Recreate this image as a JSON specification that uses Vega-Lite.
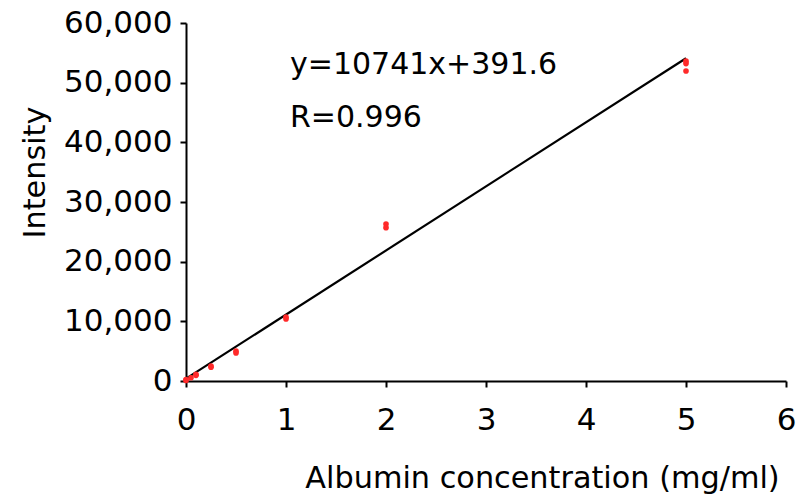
{
  "$schema": "https://vega.github.io/schema/vega-lite/v6.json",
  "width": 600,
  "height": 358,
  "autosize": {"type": "none"},
  "padding": {"left": 186, "top": 23, "right": 11, "bottom": 119},
  "background": "white",
  "config": {
    "view": {"stroke": null},
    "font": "DejaVu Sans",
    "axis": {
      "grid": false,
      "domainColor": "black",
      "domainWidth": 2,
      "tickColor": "black",
      "tickWidth": 2,
      "tickSize": 6,
      "labelFont": "DejaVu Sans",
      "labelFontSize": 31,
      "labelColor": "black",
      "titleFont": "DejaVu Sans",
      "titleFontSize": 30.3,
      "titleFontWeight": "normal",
      "titleColor": "black"
    }
  },
  "datasets": {
    "points": [
      {"conc": 0, "intensity": 100},
      {"conc": 0, "intensity": 250},
      {"conc": 0.05, "intensity": 550},
      {"conc": 0.1, "intensity": 950},
      {"conc": 0.1, "intensity": 1100},
      {"conc": 0.25, "intensity": 2500},
      {"conc": 0.25, "intensity": 2300},
      {"conc": 0.5, "intensity": 5000},
      {"conc": 0.5, "intensity": 4700},
      {"conc": 1, "intensity": 10700},
      {"conc": 1, "intensity": 10400},
      {"conc": 2, "intensity": 26300},
      {"conc": 2, "intensity": 25700},
      {"conc": 5, "intensity": 53600},
      {"conc": 5, "intensity": 53200},
      {"conc": 5, "intensity": 51950}
    ],
    "fit": [
      {"conc": 0, "intensity": 391.6},
      {"conc": 5, "intensity": 54096.6}
    ],
    "labels": [
      {"conc": 1.04, "intensity": 51450, "text": "y=10741x+391.6"},
      {"conc": 1.04, "intensity": 42570, "text": "R=0.996"}
    ]
  },
  "layer": [
    {
      "data": {"name": "fit"},
      "mark": {"type": "line", "color": "black", "strokeWidth": 2.2},
      "encoding": {
        "x": {
          "field": "conc", "type": "quantitative",
          "scale": {"domain": [0, 6], "nice": false},
          "axis": {
            "title": "Albumin concentration (mg/ml)",
            "values": [0, 1, 2, 3, 4, 5, 6],
            "format": "d",
            "labelPadding": 18,
            "titleX": 356,
            "titleY": 106,
            "titleAlign": "center",
            "titleBaseline": "alphabetic",
            "labelFlush": false
          }
        },
        "y": {
          "field": "intensity", "type": "quantitative",
          "scale": {"domain": [0, 60000], "nice": false},
          "axis": {
            "title": "Intensity",
            "values": [0, 10000, 20000, 30000, 40000, 50000, 60000],
            "format": ",d",
            "labelPadding": 8,
            "titleX": -142,
            "titleY": 149,
            "titleAngle": -90,
            "titleAlign": "center",
            "titleBaseline": "alphabetic",
            "labelFlush": false
          }
        }
      }
    },
    {
      "data": {"name": "points"},
      "mark": {"type": "circle", "color": "#ff2a2a", "size": 32, "opacity": 1},
      "encoding": {
        "x": {"field": "conc", "type": "quantitative"},
        "y": {"field": "intensity", "type": "quantitative"}
      }
    },
    {
      "data": {"name": "labels"},
      "mark": {"type": "text", "align": "left", "baseline": "alphabetic", "fontSize": 30, "font": "DejaVu Sans", "color": "black"},
      "encoding": {
        "x": {"field": "conc", "type": "quantitative"},
        "y": {"field": "intensity", "type": "quantitative"},
        "text": {"field": "text"}
      }
    }
  ]
}
